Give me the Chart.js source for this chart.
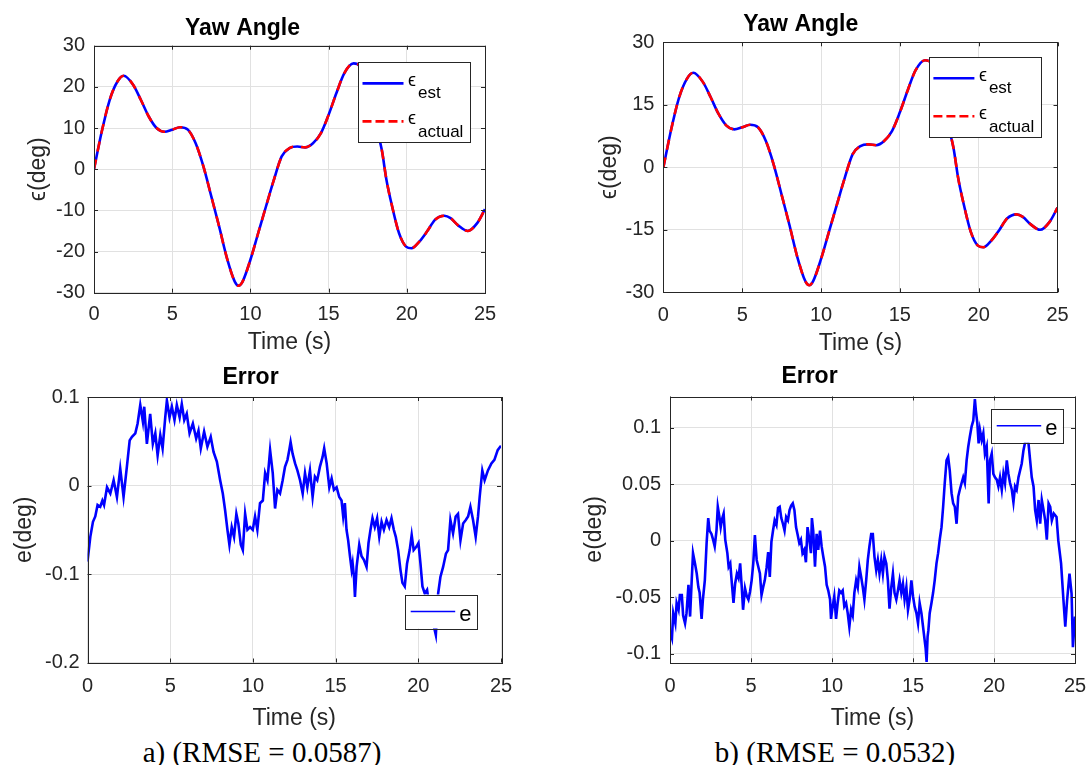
<!DOCTYPE html>
<html>
<head>
<meta charset="utf-8">
<script src="https://cdn.jsdelivr.net/npm/chart.js@4.4.1/dist/chart.umd.min.js"></script>
<style>
  html, body { margin: 0; padding: 0; background: #fff; }
  body { width: 1088px; height: 765px; position: relative; overflow: hidden; }
  canvas { position: absolute; }
  .caption {
    position: absolute; top: 736px; height: 34px; line-height: 34px;
    font: 29px "Liberation Serif", "Times New Roman", serif; color: #000;
    white-space: nowrap; transform: translateX(-50%);
  }
</style>
</head>
<body>
<canvas id="yawA" width="544" height="360" style="left:0;top:0"></canvas>
<canvas id="yawB" width="544" height="360" style="left:544px;top:0"></canvas>
<canvas id="errA" width="544" height="375" style="left:0;top:360px"></canvas>
<canvas id="errB" width="544" height="375" style="left:544px;top:360px"></canvas>
<div class="caption" style="left:262px">a) (RMSE = 0.0587)</div>
<div class="caption" style="left:835px">b) (RMSE = 0.0532)</div>
<script>
// ---- data ----
const xTicks = [0, 5, 10, 15, 20, 25];
const yawTicksA = [-30, -20, -10, 0, 10, 20, 30];
const yawTicksB = [-30, -15, 0, 15, 30];
const errTicksA = [-0.2, -0.1, 0, 0.1];
const errTicksB = [-0.1, -0.05, 0, 0.05, 0.1];

const yawTime = [0, 0.5, 1, 1.5, 1.9, 2.5, 3, 3.5, 4, 4.5, 5, 5.5, 6, 6.5, 7, 7.5, 8, 8.5, 9, 9.25, 9.5,
  10, 10.5, 11, 11.5, 12, 12.5, 13, 13.5, 14, 14.5, 15, 15.5, 16, 16.6, 17, 17.5, 18, 18.4, 18.7, 19.06,
  19.5, 19.95, 20.3, 20.8, 21.3, 21.8, 22.4, 22.8, 23.3, 23.9, 24.5, 25];
const yawEst = [0, 9.2, 16.8, 21.3, 22.7, 20.5, 16.8, 12.8, 10, 9.1, 9.6, 10.2, 9.6, 6.3, 0.6, -6.6, -13.9, -21.6, -27.3, -28.3, -27.3,
  -22, -15.5, -9, -2.6, 3.1, 5.1, 5.5, 5.3, 6.3, 8.7, 13.2, 18.5, 23.3, 25.7, 25, 20.5, 11, 4.7, -2.6, -9,
  -15.5, -18.8, -19.2, -17.6, -15.1, -12.3, -11.3, -11.9, -13.7, -15, -13.1, -9.7];
const yawActual = [0, 9.2, 16.8, 21.3, 22.7, 20.5, 16.8, 12.8, 10, 9.1, 9.6, 10.2, 9.6, 6.3, 0.6, -6.6, -13.9, -21.6, -27.3, -28.3, -27.3,
  -22, -15.5, -9, -2.6, 3.1, 5.1, 5.5, 5.3, 6.3, 8.7, 13.2, 18.5, 23.3, 25.7, 25, 20.5, 11, 4.7, -2.6, -9,
  -15.5, -18.8, -19.2, -17.6, -15.1, -12.3, -11.3, -11.9, -13.7, -15, -13.1, -9.7];

const errTimeA = [0, 0.17, 0.33, 0.47, 0.61, 0.77, 0.9, 1.0, 1.18, 1.38, 1.58, 1.78, 1.98, 2.18, 2.38, 2.55, 2.69, 2.89,
  3.03, 3.19, 3.35, 3.43, 3.59, 3.79, 3.95, 4.1, 4.24, 4.4, 4.54, 4.7, 4.8, 4.96, 5.1, 5.26, 5.4, 5.57, 5.7, 5.85,
  6.0, 6.17, 6.37, 6.57, 6.71, 6.85, 7.05, 7.25, 7.45, 7.62, 7.82, 8.02, 8.18, 8.32, 8.46, 8.58, 8.72, 8.86,
  9.0, 9.12, 9.27, 9.39, 9.53, 9.67, 9.83, 9.99, 10.13, 10.27, 10.43, 10.6, 10.74, 10.88, 11.04, 11.2, 11.34,
  11.48, 11.64, 11.8, 11.94, 12.09, 12.2, 12.28, 12.4, 12.55, 12.69, 12.85, 13.01, 13.15, 13.29, 13.45, 13.61,
  13.75, 13.89, 14.05, 14.21, 14.31, 14.46, 14.62, 14.76, 14.9, 15.06, 15.22, 15.36, 15.46, 15.56, 15.66,
  15.76, 15.87, 15.97, 16.03, 16.11, 16.17, 16.27, 16.43, 16.57, 16.71, 16.87, 16.99, 17.11, 17.23, 17.37,
  17.51, 17.64, 17.78, 17.92, 18.08, 18.24, 18.38, 18.52, 18.64, 18.78, 18.92, 19.04, 19.18, 19.32, 19.48,
  19.6, 19.72, 19.89, 20.01, 20.13, 20.25, 20.39, 20.53, 20.7, 20.9, 21.06, 21.2, 21.34, 21.5, 21.67, 21.8,
  21.94, 22.1, 22.26, 22.4, 22.55, 22.71, 22.87, 23.01, 23.15, 23.31, 23.47, 23.61, 23.71, 23.87, 24.01,
  24.21, 24.42, 24.6, 24.8, 25];
const errA = [-0.086, -0.058, -0.041, -0.035, -0.022, -0.024, -0.017, -0.022, -0.002, -0.009, 0.006, -0.013, 0.019, -0.013, 0.021, 0.051, 0.055, 0.059,
  0.07, 0.091, 0.072, 0.089, 0.047, 0.081, 0.047, 0.059, 0.034, 0.057, 0.042, 0.077, 0.096, 0.077, 0.089, 0.074, 0.091, 0.077, 0.092, 0.074,
  0.081, 0.059, 0.07, 0.053, 0.062, 0.042, 0.061, 0.044, 0.055, 0.038, 0.027, 0.006, -0.009, -0.028, -0.05, -0.067, -0.047, -0.058,
  -0.032, -0.043, -0.067, -0.073, -0.032, -0.05, -0.047, -0.05, -0.035, -0.05, -0.02, -0.017, 0.014, 0.006, 0.04, 0.014, -0.026,
  -0.005, -0.009, 0.006, 0.021, 0.029, 0.04, 0.049, 0.036, 0.025, 0.017, 0.006, -0.009, 0.014, -0.002, 0.017, -0.013,
  0.01, 0.006, 0.021, 0.032, 0.042, 0.025, -0.002, 0.008, -0.005, -0.002, -0.013, -0.017, -0.035, -0.02, -0.05,
  -0.062, -0.08, -0.095, -0.088, -0.103, -0.126, -0.092, -0.067, -0.08, -0.084, -0.092, -0.065, -0.05, -0.037, -0.047,
  -0.037, -0.058, -0.041, -0.05, -0.039, -0.047, -0.037, -0.05, -0.058, -0.073, -0.095, -0.11, -0.114, -0.088, -0.073,
  -0.056, -0.073, -0.069, -0.065, -0.088, -0.114, -0.122, -0.118, -0.141, -0.156, -0.169, -0.122, -0.103, -0.092, -0.077, -0.073,
  -0.039, -0.054, -0.035, -0.032, -0.062, -0.043, -0.039, -0.035, -0.024, -0.039, -0.058, -0.035, -0.013, 0.017, 0.006,
  0.017, 0.025, 0.029, 0.04, 0.045];

const errTimeB = [0, 0.12, 0.2, 0.33, 0.41, 0.53, 0.61, 0.73, 0.81, 0.93, 1.02, 1.14, 1.24, 1.34, 1.42, 1.54, 1.65, 1.75, 1.83, 1.95,
  2.03, 2.15, 2.26, 2.36, 2.44, 2.56, 2.66, 2.76, 2.87, 2.95, 3.05, 3.13, 3.21, 3.31, 3.41, 3.54, 3.62, 3.72, 3.82, 3.92,
  4.02, 4.13, 4.23, 4.33, 4.43, 4.51, 4.63, 4.74, 4.84, 4.94, 5.04, 5.14, 5.24, 5.35, 5.45, 5.55, 5.65, 5.75, 5.85, 5.96,
  6.06, 6.16, 6.26, 6.36, 6.46, 6.57, 6.67, 6.77, 6.87, 6.97, 7.07, 7.17, 7.28, 7.38, 7.48, 7.58, 7.68, 7.78, 7.87, 7.98,
  8.08, 8.18, 8.29, 8.39, 8.49, 8.6, 8.7, 8.76, 8.84, 8.95, 9.05, 9.15, 9.26, 9.36, 9.46, 9.57, 9.67, 9.77, 9.88, 9.94,
  10.04, 10.14, 10.25, 10.35, 10.45, 10.56, 10.66, 10.76, 10.87, 10.97, 11.07, 11.18, 11.28, 11.38, 11.49, 11.59, 11.69,
  11.8, 11.9, 12.0, 12.11, 12.21, 12.31, 12.42, 12.52, 12.62, 12.73, 12.83, 12.93, 13.04, 13.14, 13.24, 13.35, 13.45,
  13.55, 13.66, 13.76, 13.86, 13.97, 14.07, 14.17, 14.28, 14.38, 14.48, 14.59, 14.69, 14.79, 14.9, 15.0, 15.1, 15.21,
  15.31, 15.41, 15.52, 15.62, 15.72, 15.78, 15.84, 15.9, 15.95, 16.03, 16.14, 16.24, 16.34, 16.45, 16.55, 16.65, 16.76,
  16.86, 16.96, 17.07, 17.17, 17.27, 17.38, 17.48, 17.58, 17.69, 17.79, 17.89, 18.0, 18.1, 18.2, 18.31, 18.41, 18.51,
  18.62, 18.72, 18.82, 18.88, 18.97, 19.05, 19.13, 19.24, 19.34, 19.44, 19.55, 19.67, 19.75, 19.86, 19.96, 20.06, 20.17,
  20.27, 20.37, 20.48, 20.58, 20.68, 20.79, 20.89, 20.99, 21.1, 21.2, 21.3, 21.4, 21.51, 21.61, 21.71, 21.82, 21.92,
  22.02, 22.13, 22.23, 22.33, 22.44, 22.54, 22.64, 22.75, 22.85, 22.95, 23.06, 23.16, 23.26, 23.37, 23.47, 23.57,
  23.69, 23.86, 23.97, 24.14, 24.29, 24.4, 24.51, 24.66, 24.79, 24.87, 24.96, 25];
const errB = [-0.08, -0.086, -0.064, -0.073, -0.055, -0.061, -0.048, -0.048, -0.066, -0.073, -0.064, -0.039, -0.067, -0.035, -0.011, -0.02, -0.029, -0.041, -0.046, -0.069,
  -0.052, -0.035, -0.002, 0.02, 0.009, 0.006, 0.001, -0.005, 0.009, 0.03, 0.021, 0.012, 0.019, 0.024, 0.001, -0.011, -0.023, -0.02, -0.038, -0.055,
  -0.038, -0.029, -0.033, -0.02, -0.041, -0.061, -0.042, -0.049, -0.052, -0.045, -0.035, -0.02, 0.005, -0.017, -0.023, -0.029, -0.048, -0.041, -0.035, -0.024,
  -0.01, -0.032, -0.001, 0.009, 0.018, 0.014, 0.029, 0.03, 0.02, 0.015, 0.009, 0.021, 0.018, 0.027, 0.031, 0.033, 0.027, 0.012, 0.006, -0.002,
  0.001, -0.011, -0.008, -0.019, 0.012, 0.001, -0.011, 0.02, 0.009, -0.023, 0.006, -0.008, 0.009, -0.005, -0.014, -0.023, -0.039, -0.044, -0.052, -0.069,
  -0.058, -0.049, -0.069, -0.055, -0.044, -0.046, -0.044, -0.058, -0.055, -0.064, -0.076, -0.061, -0.066, -0.046, -0.035, -0.041, -0.023,
  -0.032, -0.041, -0.052, -0.035, -0.017, -0.005, 0.006, 0.006, -0.014, -0.026, -0.017, -0.029, -0.017, -0.029, -0.014, -0.02, -0.035,
  -0.06, -0.041, -0.029, -0.046, -0.052, -0.044, -0.035, -0.046, -0.038, -0.052, -0.041, -0.061, -0.052, -0.035, -0.049, -0.058, -0.064,
  -0.073, -0.055, -0.064, -0.076, -0.088, -0.095, -0.107, -0.085, -0.079, -0.064, -0.055, -0.046, -0.035, -0.02, -0.011, 0.001, 0.012,
  0.03, 0.051, 0.071, 0.074, 0.062, 0.042, 0.033, 0.03, 0.015, 0.039, 0.045, 0.051, 0.056, 0.051, 0.071, 0.083, 0.092,
  0.101, 0.106, 0.125, 0.115, 0.104, 0.086, 0.098, 0.089, 0.095, 0.077, 0.083, 0.033, 0.071, 0.077, 0.059, 0.056, 0.054,
  0.048, 0.056, 0.045, 0.059, 0.051, 0.071, 0.059, 0.051, 0.045, 0.034, 0.048, 0.045, 0.056, 0.062, 0.068, 0.08, 0.087,
  0.089, 0.086, 0.071, 0.056, 0.048, 0.027, 0.018, 0.036, 0.015, 0.036, 0.027, 0.018, 0.001, 0.033, 0.03, 0.018,
  0.024, 0.021, 0.0, -0.02, -0.053, -0.076, -0.053, -0.029, -0.047, -0.094, -0.076, -0.067];

// ---- styling ----
const FONT = '"Liberation Sans", Arial, Helvetica, sans-serif';
const INK = '#262626';
const GRID = '#e1e1e1';

const pairs = (xs, ys) => xs.map((x, i) => ({ x: x, y: ys[i] }));
const tickFmt = v => String(Math.round(v * 1000) / 1000);

// box around the axes with small inward ticks, like MATLAB
const framePlugin = {
    id: 'frame',
    afterDatasetsDraw(chart) {
        const { ctx, chartArea: a, scales: { x, y } } = chart;
        const tl = 4;
        ctx.save();
        ctx.strokeStyle = INK;
        ctx.lineWidth = 1;
        ctx.beginPath();
        x.ticks.forEach(t => {
            const px = Math.round(x.getPixelForValue(t.value)) + 0.5;
            ctx.moveTo(px, a.bottom); ctx.lineTo(px, a.bottom - tl);
            ctx.moveTo(px, a.top); ctx.lineTo(px, a.top + tl);
        });
        y.ticks.forEach(t => {
            const py = Math.round(y.getPixelForValue(t.value)) + 0.5;
            ctx.moveTo(a.left, py); ctx.lineTo(a.left + tl, py);
            ctx.moveTo(a.right, py); ctx.lineTo(a.right - tl, py);
        });
        ctx.stroke();
        ctx.strokeRect(Math.round(a.left) + 0.5, Math.round(a.top) + 0.5,
            Math.round(a.right - a.left), Math.round(a.bottom - a.top));
        ctx.restore();
    }
};

// legend with TeX style subscripts
function makeLegend(cfg) {
    return {
        id: 'texLegend',
        afterDraw(chart) {
            const { ctx, chartArea: a } = chart;
            const bx = a.right - cfg.right - cfg.w;
            const by = cfg.top != null ? a.top + cfg.top : a.bottom - cfg.bottom - cfg.h;
            ctx.save();
            ctx.fillStyle = '#fff';
            ctx.fillRect(bx, by, cfg.w, cfg.h);
            ctx.strokeStyle = INK;
            ctx.lineWidth = 1;
            ctx.strokeRect(Math.round(bx) + 0.5, Math.round(by) + 0.5, Math.round(cfg.w), Math.round(cfg.h));
            cfg.items.forEach(it => {
                ctx.beginPath();
                ctx.setLineDash(it.dash || []);
                ctx.strokeStyle = it.color;
                ctx.lineWidth = it.lineWidth;
                ctx.moveTo(bx + cfg.lineX0, by + it.lineY);
                ctx.lineTo(bx + cfg.lineX1, by + it.lineY);
                ctx.stroke();
                ctx.setLineDash([]);
                ctx.fillStyle = '#000';
                ctx.textBaseline = 'alphabetic';
                ctx.textAlign = 'left';
                ctx.font = cfg.mainSize + 'px ' + FONT;
                ctx.fillText(it.main, bx + cfg.textX, by + it.mainY);
                if (it.sub) {
                    ctx.font = cfg.subSize + 'px ' + FONT;
                    ctx.fillText(it.sub, bx + cfg.subX, by + it.subY);
                }
            });
            ctx.restore();
        }
    };
}

function makePlot(id, opt) {
    const tickFont = { family: FONT, size: 20 };
    const labelFont = { family: FONT, size: 23, lineHeight: 1.2 };
    return new Chart(document.getElementById(id), {
        type: 'line',
        data: { datasets: opt.datasets },
        options: {
            responsive: false,
            animation: false,
            devicePixelRatio: 1,
            layout: { padding: { left: 0, top: 0, right: opt.padRight, bottom: opt.padBottom } },
            elements: { point: { radius: 0 } },
            plugins: {
                legend: { display: false },
                tooltip: { enabled: false },
                title: {
                    display: true, text: opt.title, color: '#000',
                    font: { family: FONT, size: 23, weight: 'bold', lineHeight: 1.2 },
                    padding: { top: opt.titleTop, bottom: opt.titleBottom }
                }
            },
            scales: {
                x: {
                    type: 'linear', min: 0, max: 25,
                    afterBuildTicks: s => { s.ticks = xTicks.map(v => ({ value: v })); },
                    afterFit: s => { s.height = opt.xH; s.paddingLeft = 0; s.paddingRight = 0; },
                    ticks: { color: INK, font: tickFont, padding: opt.xTickPad, maxRotation: 0, autoSkip: false, callback: v => tickFmt(v) },
                    grid: { color: GRID, drawTicks: false },
                    border: { display: false },
                    title: { display: true, text: 'Time (s)', color: INK, font: labelFont, padding: { top: 0, bottom: 0 } }
                },
                y: {
                    type: 'linear', min: opt.yMin, max: opt.yMax,
                    afterBuildTicks: s => { s.ticks = opt.yTicks.map(v => ({ value: v })); },
                    afterFit: s => { s.width = opt.yW; s.paddingTop = 0; s.paddingBottom = 0; },
                    ticks: { color: INK, font: tickFont, padding: opt.yTickPad, autoSkip: false, callback: v => tickFmt(v) },
                    grid: { color: GRID, drawTicks: false },
                    border: { display: false },
                    title: { display: true, text: opt.yLabel, color: INK, font: labelFont, padding: { top: opt.yTitlePad, bottom: 0 } }
                }
            }
        },
        plugins: [framePlugin, makeLegend(opt.legend)]
    });
}

function yawDatasets() {
    return [
        { data: pairs(yawTime, yawEst), borderColor: '#0000ff', borderWidth: 2.6, cubicInterpolationMode: 'monotone', order: 2 },
        { data: pairs(yawTime, yawActual), borderColor: '#ff0000', borderWidth: 2.6, borderDash: [10, 8], cubicInterpolationMode: 'monotone', order: 1 }
    ];
}
function errDataset(ts, vs) {
    return [{ data: pairs(ts, vs), borderColor: '#0000ff', borderWidth: 2.6, tension: 0 }];
}

const yawLegend = (right, top) => ({
    right: right, top: top, w: 112, h: 80,
    lineX0: 4.5, lineX1: 45.5, textX: 50, subX: 60, mainSize: 18, subSize: 17,
    items: [
        { color: '#0000ff', lineWidth: 2.6, lineY: 21, main: 'ϵ', mainY: 24, sub: 'est', subY: 36 },
        { color: '#ff0000', lineWidth: 2.6, dash: [9, 4], lineY: 59, main: 'ϵ', mainY: 62, sub: 'actual', subY: 75 }
    ]
});
const errLegend = (right, top, bottom) => ({
    right: right, top: top, bottom: bottom, w: 71.5, h: 34,
    lineX0: 5.5, lineX1: 50, textX: 54, subX: 0, mainSize: 22, subSize: 0,
    items: [{ color: '#0000ff', lineWidth: 1.6, lineY: 17, main: 'e', mainY: 26.5 }]
});

makePlot('yawA', {
    title: 'Yaw Angle', titleTop: 15.2, titleBottom: 2.9,
    yLabel: 'ϵ(deg)', yTitlePad: 25, yW: 94, yTickPad: 9,
    yMin: -30, yMax: 30, yTicks: yawTicksA,
    xH: 64, xTickPad: 10, padRight: 59, padBottom: 3.3,
    datasets: yawDatasets(),
    legend: yawLegend(15, 16.7)
});
makePlot('yawB', {
    title: 'Yaw Angle', titleTop: 11.2, titleBottom: 3.5,
    yLabel: 'ϵ(deg)', yTitlePad: 52, yW: 119.4, yTickPad: 9,
    yMin: -30, yMax: 30, yTicks: yawTicksB,
    xH: 65, xTickPad: 11, padRight: 30.5, padBottom: 2.7,
    datasets: yawDatasets(),
    legend: yawLegend(16.6, 15)
});
makePlot('errA', {
    title: 'Error', titleTop: 4.2, titleBottom: 5.2,
    yLabel: 'e(deg)', yTitlePad: 10.5, yW: 87.5, yTickPad: 8,
    yMin: -0.2, yMax: 0.1, yTicks: errTicksA,
    xH: 70, xTickPad: 12, padRight: 43, padBottom: 2.5,
    datasets: errDataset(errTimeA, errA),
    legend: errLegend(24.3, null, 34)
});
makePlot('errB', {
    title: 'Error', titleTop: 3.2, titleBottom: 5.7,
    yLabel: 'e(deg)', yTitlePad: 36.5, yW: 126, yTickPad: 9,
    yMin: -0.1074, yMax: 0.1274, yTicks: errTicksB,
    xH: 70, xTickPad: 12, padRight: 13, padBottom: 2.7,
    datasets: errDataset(errTimeB, errB),
    legend: errLegend(12.3, 12.2, null)
});
</script>
</body>
</html>
